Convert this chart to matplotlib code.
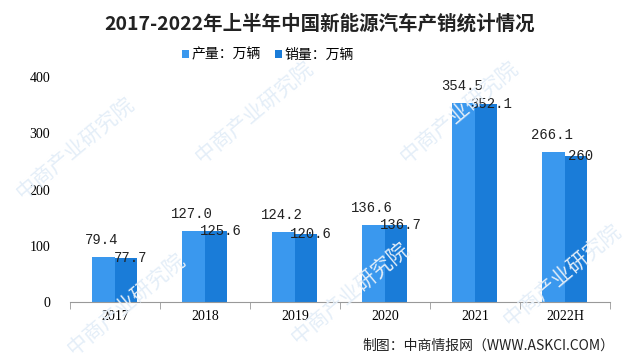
import matplotlib
matplotlib.use('Agg')
import matplotlib.pyplot as plt
import numpy as np

# data
years = ['2017', '2018', '2019', '2020', '2021', '2022H']
production = [79.4, 127.0, 124.2, 136.6, 354.5, 266.1]
sales = [77.7, 125.6, 120.6, 136.7, 352.1, 260]
prod_labels = ['79.4', '127.0', '124.2', '136.6', '354.5', '266.1']
sales_labels = ['77.7', '125.6', '120.6', '136.7', '352.1', '260']

plt.rcParams['font.family'] = ['Noto Sans CJK SC', 'DejaVu Sans']

fig = plt.figure(figsize=(6.4, 3.62), dpi=100)
ax = fig.add_axes([0.109, 0.166, 0.844, 0.621])

# faint watermark
for x, y in [(0.02, 0.45), (0.3, 0.55), (0.62, 0.55), (0.1, 0.02), (0.45, 0.05), (0.78, 0.1)]:
    fig.text(x, y, '中商产业研究院', fontsize=15, color='#e4eef8', rotation=40,
             zorder=0)

x = np.arange(len(years))
w = 0.25
ax.bar(x - w / 2, production, w, color='#3a98ee', label='产量：万辆', zorder=2)
ax.bar(x + w / 2, sales, w, color='#1a7cd8', label='销量：万辆', zorder=2)

for i in range(len(years)):
    ax.text(x[i] - w / 2 - 0.02, production[i] + 30, prod_labels[i], ha='center', va='center',
            fontsize=10, family='Liberation Mono', color='#222222', zorder=3)
    ax.text(x[i] + w / 2 + 0.05, sales[i], sales_labels[i], ha='center', va='center',
            fontsize=10, family='Liberation Mono', color='#222222', zorder=3)

ax.set_xlim(-0.5, len(years) - 0.5)
ax.set_ylim(0, 400)
ax.set_yticks([0, 100, 200, 300, 400])
ax.set_xticks(x)
ax.set_xticklabels(years, family='Liberation Serif', fontsize=10)
for lbl in ax.get_yticklabels():
    lbl.set_family('Liberation Serif')
    lbl.set_fontsize(10)
ax.tick_params(axis='y', length=0, pad=14)
ax.tick_params(axis='x', length=0, pad=6)
# boundary ticks on the category axis
ax.set_xticks(np.arange(-0.5, len(years), 1), minor=True)
ax.tick_params(axis='x', which='minor', length=5, color='#999999')

for s in ['top', 'right', 'left']:
    ax.spines[s].set_visible(False)
ax.spines['bottom'].set_color('#999999')
ax.patch.set_alpha(0)

fig.text(0.5, 0.935, '2017-2022年上半年中国新能源汽车产销统计情况', ha='center', va='center',
         fontsize=14, fontweight='bold', color='#222222')
ax.legend(loc='center', bbox_to_anchor=(0.367, 1.1), ncol=2, frameon=False,
          fontsize=10, handlelength=0.5, handleheight=0.5, handletextpad=0.2,
          columnspacing=1.0)
fig.text(0.96, 0.045, '制图：中商情报网（WWW.ASKCI.COM）', ha='right', va='center',
         fontsize=10, color='#222222')

fig.savefig('out.png', dpi=100)
